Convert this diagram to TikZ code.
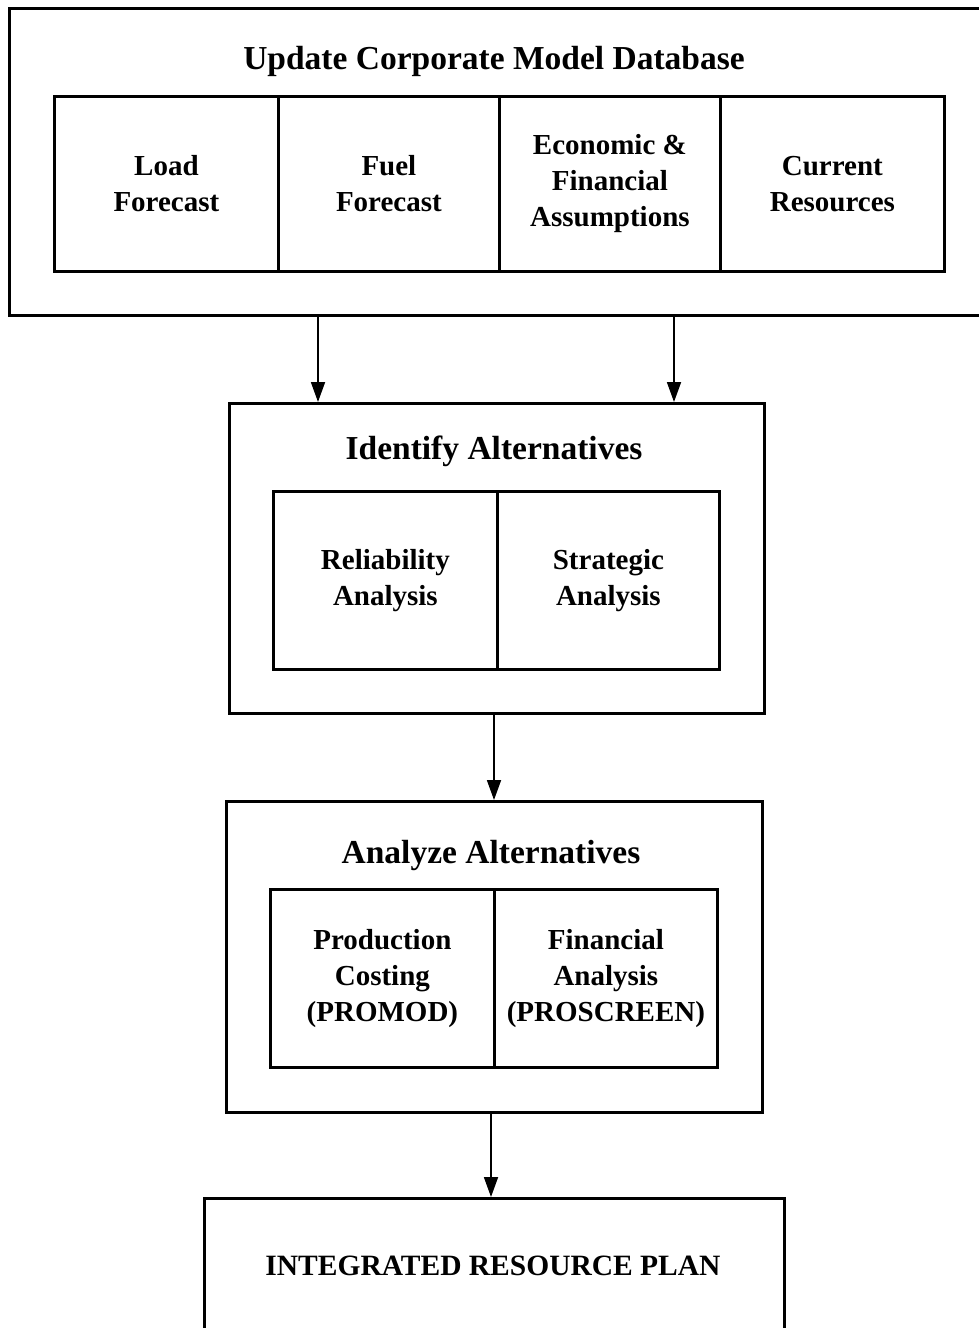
\documentclass[tikz,border=0pt]{standalone}
\usepackage{fontspec}
\setmainfont{Liberation Serif}
\usetikzlibrary{arrows.meta,calc}
\begin{document}
\begin{tikzpicture}[x=1pt,y=-1pt,
  frame/.style={draw,line width=2.8pt,inner sep=0pt,anchor=north west},
  cell/.style={draw,line width=2.8pt,inner sep=0pt,anchor=north west,align=center,
    font=\fontsize{29}{36}\selectfont\bfseries},
  ttl/.style={font=\fontsize{33.5}{40}\selectfont\bfseries,inner sep=0pt},
  arr/.style={line width=1.8pt,-{Triangle[length=20pt,width=14pt]}}]
\useasboundingbox (0,0) rectangle (979,1328);
\clip (0,0) rectangle (979,1328);
% top frame
\node[frame,minimum width=985pt,minimum height=307pt] (upd) at (8,7) {};
\node[ttl] (updt) at (494,61) {Update Corporate Model Database};
\node[cell,minimum width=224pt,minimum height=175pt] (load) at (53,95) {Load\\Forecast};
\node[cell,minimum width=221pt,minimum height=175pt] (fuel) at (277,95) {Fuel\\Forecast};
\node[cell,minimum width=221pt,minimum height=175pt] (econ) at (498,95) {Economic \&\\Financial\\Assumptions};
\node[cell,minimum width=224pt,minimum height=175pt] (curr) at (719,95) {Current\\Resources};
% identify
\node[frame,minimum width=535pt,minimum height=310pt] (ident) at (228,402) {};
\node[ttl] (identt) at (494,451) {Identify Alternatives};
\node[cell,minimum width=224pt,minimum height=178pt] (rel) at (272,490) {Reliability\\Analysis};
\node[cell,minimum width=222pt,minimum height=178pt] (strat) at (496,490) {Strategic\\Analysis};
% analyze
\node[frame,minimum width=536pt,minimum height=311pt] (anal) at (225,800) {};
\node[ttl] (analt) at (491,855) {Analyze Alternatives};
\node[cell,minimum width=224pt,minimum height=178pt] (prod) at (269,888) {Production\\Costing\\(PROMOD)};
\node[cell,minimum width=223pt,minimum height=178pt] (fin) at (493,888) {Financial\\Analysis\\(PROSCREEN)};
% plan
\node[frame,minimum width=580pt,minimum height=160pt] (plan) at (203,1197) {};
\node[font=\fontsize{29.5}{36}\selectfont\bfseries,inner sep=0pt] (plant) at (493,1266) {INTEGRATED RESOURCE PLAN};
% arrows
\coordinate (a1) at (318,0);
\coordinate (a2) at (674,0);
\coordinate (a3) at (494,0);
\coordinate (a4) at (491,0);
\draw[arr] (upd.south -| a1) -- (ident.north -| a1);
\draw[arr] (upd.south -| a2) -- (ident.north -| a2);
\draw[arr] (ident.south -| a3) -- (anal.north -| a3);
\draw[arr] (anal.south -| a4) -- (plan.north -| a4);
\end{tikzpicture}
\end{document}
